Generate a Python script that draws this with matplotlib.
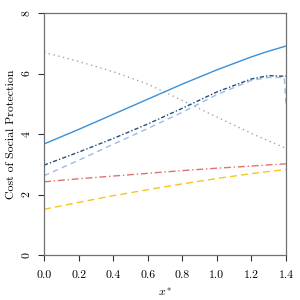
import matplotlib
matplotlib.use('Agg')
import matplotlib.pyplot as plt
import numpy as np

plt.rcParams['font.family'] = ['cmr10', 'DejaVu Serif']
plt.rcParams['mathtext.fontset'] = 'cm'
plt.rcParams['axes.formatter.use_mathtext'] = True

# values
x_pts = [0.0, 0.2, 0.4, 0.6, 0.8, 1.0, 1.2, 1.3, 1.39, 1.4]
blue_solid = [3.67, 4.15, 4.65, 5.15, 5.65, 6.12, 6.55, 6.74, 6.89, 6.91]
gray_dotted = [6.70, 6.40, 6.06, 5.65, 5.11, 4.56, 4.02, 3.77, 3.55, 3.53]
navy_dashdot = [2.97, 3.40, 3.85, 4.33, 4.85, 5.39, 5.82, 5.93, 5.91, 5.91]
light_dashed = [2.62, 3.13, 3.66, 4.18, 4.72, 5.30, 5.77, 5.87, 5.87, 5.00]
red_dashdot = [2.42, 2.52, 2.61, 2.70, 2.79, 2.87, 2.94, 2.98, 3.01, 3.01]
yellow_dashed = [1.51, 1.74, 1.96, 2.16, 2.35, 2.53, 2.69, 2.76, 2.82, 2.83]

x_ticks = [0.0, 0.2, 0.4, 0.6, 0.8, 1.0, 1.2, 1.4]
y_ticks = [0, 2, 4, 6, 8]

fig = plt.figure(figsize=(3, 3), dpi=100)
ax = fig.add_axes([44/300, 45/300, 242/300, 242/300])

ax.plot(x_pts, gray_dotted, color='#a6a6a6', lw=1, linestyle=(0, (1, 2.5)))
ax.plot(x_pts, blue_solid, color='#3b8fd8', lw=1)
ax.plot(x_pts, light_dashed, color='#9dbbe8', lw=1, linestyle=(0, (4, 3)))
ax.plot(x_pts, navy_dashdot, color='#22507c', lw=1, linestyle=(0, (3, 1.5, 1, 1.5)))
ax.plot(x_pts, red_dashdot, color='#e07272', lw=1, linestyle=(0, (5, 2, 1, 2)))
ax.plot(x_pts, yellow_dashed, color='#f5c623', lw=1, linestyle=(0, (5, 3)))

ax.set_xlim(0, 1.4)
ax.set_ylim(0, 8)
ax.set_xticks(x_ticks)
ax.set_xticklabels(['%.1f' % v for v in x_ticks])
ax.set_yticks(y_ticks)
ax.set_yticklabels([str(v) for v in y_ticks], rotation=90, va='center')

for sp in ax.spines.values():
    sp.set_color('#707070')
    sp.set_linewidth(0.9)
ax.tick_params(axis='both', length=4, width=0.8, color='#333333', labelsize=8.5)
ax.tick_params(axis='x', pad=7)
ax.tick_params(axis='y', pad=5)

ax.set_xlabel('$x^*$', fontsize=8.5, labelpad=4)
ax.set_ylabel('Cost of Social Protection', fontsize=8.5, labelpad=4)

plt.savefig('out.png', dpi=100)
